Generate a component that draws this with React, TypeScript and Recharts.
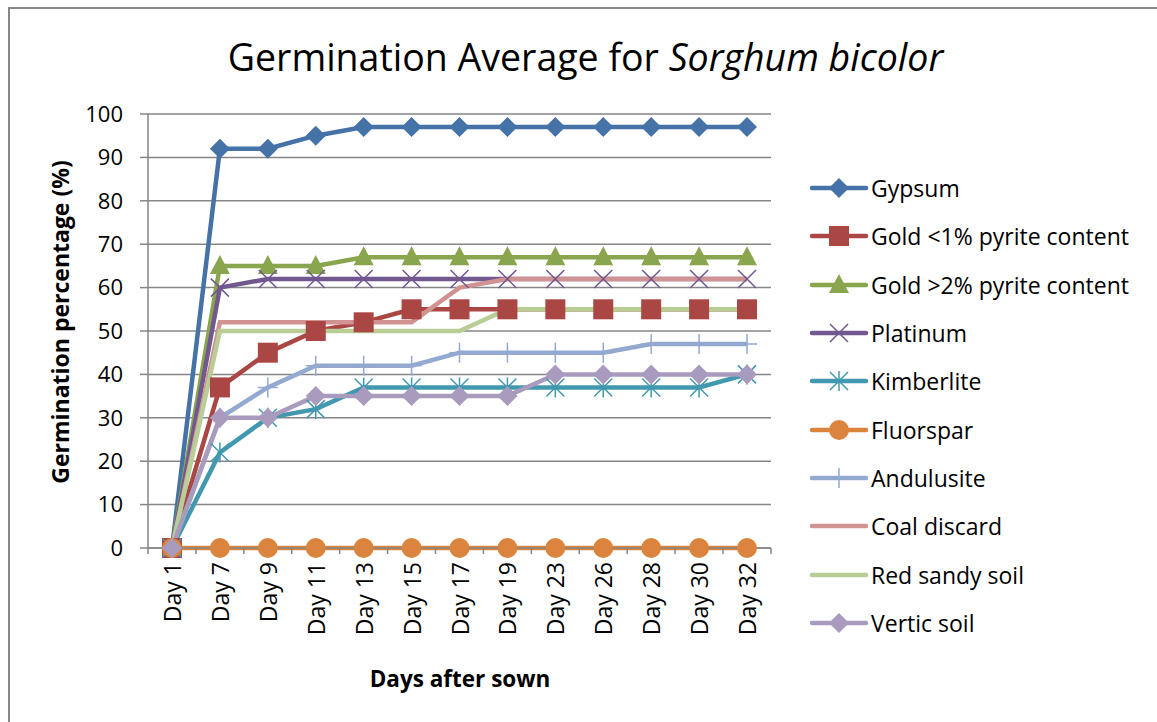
import { LineChart, Line, XAxis, YAxis, CartesianGrid } from 'recharts'

const days = ['Day 1', 'Day 7', 'Day 9', 'Day 11', 'Day 13', 'Day 15', 'Day 17', 'Day 19', 'Day 23', 'Day 26', 'Day 28', 'Day 30', 'Day 32']
const gypsum = [0, 92, 92, 95, 97, 97, 97, 97, 97, 97, 97, 97, 97]
const goldLow = [0, 37, 45, 50, 52, 55, 55, 55, 55, 55, 55, 55, 55]
const goldHigh = [0, 65, 65, 65, 67, 67, 67, 67, 67, 67, 67, 67, 67]
const platinum = [0, 60, 62, 62, 62, 62, 62, 62, 62, 62, 62, 62, 62]
const kimberlite = [0, 22, 30, 32, 37, 37, 37, 37, 37, 37, 37, 37, 40]
const fluorspar = [0, 0, 0, 0, 0, 0, 0, 0, 0, 0, 0, 0, 0]
const andulusite = [0, 30, 37, 42, 42, 42, 45, 45, 45, 45, 47, 47, 47]
const coalDiscard = [0, 52, 52, 52, 52, 52, 60, 62, 62, 62, 62, 62, 62]
const redSandy = [0, 50, 50, 50, 50, 50, 50, 55, 55, 55, 55, 55, 55]
const vertic = [0, 30, 30, 35, 35, 35, 35, 35, 40, 40, 40, 40, 40]
const yTicks = [0, 10, 20, 30, 40, 50, 60, 70, 80, 90, 100]

type Marker = 'diamond' | 'square' | 'triangle' | 'x' | 'star' | 'circle' | 'plus' | 'none'

const series: { key: string; name: string; color: string; marker: Marker; values: number[] }[] = [
  { key: 'gypsum', name: 'Gypsum', color: '#4572A7', marker: 'diamond', values: gypsum },
  { key: 'goldLow', name: 'Gold <1% pyrite content', color: '#AA4643', marker: 'square', values: goldLow },
  { key: 'goldHigh', name: 'Gold >2% pyrite content', color: '#89A54E', marker: 'triangle', values: goldHigh },
  { key: 'platinum', name: 'Platinum', color: '#71588F', marker: 'x', values: platinum },
  { key: 'kimberlite', name: 'Kimberlite', color: '#4198AF', marker: 'star', values: kimberlite },
  { key: 'fluorspar', name: 'Fluorspar', color: '#DB843D', marker: 'circle', values: fluorspar },
  { key: 'andulusite', name: 'Andulusite', color: '#93A9CF', marker: 'plus', values: andulusite },
  { key: 'coal', name: 'Coal discard', color: '#D19392', marker: 'none', values: coalDiscard },
  { key: 'redSandy', name: 'Red sandy soil', color: '#B9CD96', marker: 'none', values: redSandy },
  { key: 'vertic', name: 'Vertic soil', color: '#A99BBD', marker: 'diamond', values: vertic },
]

const data = days.map((day, i) => {
  const row: Record<string, string | number> = { day }
  series.forEach((s) => { row[s.key] = s.values[i] })
  return row
})

const FONT = 'Open Sans, sans-serif'

function MarkerShape({ cx, cy, marker, color }: { cx: number; cy: number; marker: Marker; color: string }) {
  switch (marker) {
    case 'diamond':
      return <path d={`M${cx},${cy - 10}L${cx + 10},${cy}L${cx},${cy + 10}L${cx - 10},${cy}Z`} fill={color} />
    case 'square':
      return <rect x={cx - 10} y={cy - 10} width={20} height={20} fill={color} />
    case 'triangle':
      return <path d={`M${cx},${cy - 11}L${cx + 10},${cy + 8}L${cx - 10},${cy + 8}Z`} fill={color} />
    case 'circle':
      return <circle cx={cx} cy={cy} r={10} fill={color} />
    case 'x':
      return <path d={`M${cx - 9},${cy - 9}L${cx + 9},${cy + 9}M${cx + 9},${cy - 9}L${cx - 9},${cy + 9}`} stroke={color} strokeWidth={1.5} fill="none" />
    case 'star':
      return <path d={`M${cx - 9},${cy - 9}L${cx + 9},${cy + 9}M${cx + 9},${cy - 9}L${cx - 9},${cy + 9}M${cx},${cy - 10}L${cx},${cy + 10}`} stroke={color} strokeWidth={1.5} fill="none" />
    case 'plus':
      return <path d={`M${cx},${cy - 10}L${cx},${cy + 10}M${cx - 10},${cy}L${cx + 10},${cy}`} stroke={color} strokeWidth={1.5} fill="none" />
    default:
      return null
  }
}

const makeDot = (marker: Marker, color: string) => (props: any) => {
  const { cx, cy, index } = props
  if (cx == null || cy == null) return <g key={index} />
  return <g key={index}><MarkerShape cx={cx} cy={cy} marker={marker} color={color} /></g>
}

const HALF_BAND = 24

function DayTick(props: any) {
  const { x, y, payload, index } = props
  return (
    <g>
      <line x1={x - HALF_BAND} x2={x - HALF_BAND} y1={y - 8} y2={y - 2} stroke="#868686" strokeWidth={1.5} />
      {index === days.length - 1 && (
        <line x1={x + HALF_BAND} x2={x + HALF_BAND} y1={y - 8} y2={y - 2} stroke="#868686" strokeWidth={1.5} />
      )}
      <text
        x={x}
        y={y + 6}
        transform={`rotate(-90, ${x}, ${y + 6})`}
        textAnchor="end"
        dominantBaseline="central"
        fontSize={23}
        fontFamily={FONT}
        fill="#000"
      >
        {payload.value}
      </text>
    </g>
  )
}

export default function App() {
  return (
    <div style={{ position: 'absolute', left: 0, top: 0, width: 1157, height: 722, overflow: 'hidden', background: '#fff' }}>
      <div style={{ position: 'absolute', left: 8, top: 7, width: 1200, height: 760, border: '2px solid #888' }} />
      <div style={{ position: 'absolute', left: 0, top: 31, width: 1171, textAlign: 'center', fontFamily: FONT, fontSize: 37.5, color: '#000' }}>
        Germination Average for <i>Sorghum bicolor</i>
      </div>
      <div style={{ position: 'absolute', left: 0, top: 0 }}>
        <LineChart width={1157} height={722} data={data} margin={{ top: 114, right: 386, bottom: 104, left: 0 }}>
          <CartesianGrid vertical={false} stroke="#868686" strokeWidth={1.5} />
          <XAxis
            dataKey="day"
            padding={{ left: HALF_BAND, right: HALF_BAND }}
            height={70}
            tick={<DayTick />}
            tickLine={false}
            interval={0}
            stroke="#868686"
            strokeWidth={1.5}
          />
          <YAxis
            domain={[0, 100]}
            ticks={yTicks}
            width={148}
            tickSize={8}
            tickMargin={17}
            stroke="#868686"
            strokeWidth={1.5}
            tick={{ fontSize: 22, fill: '#000', fontFamily: FONT }}
          />
          {series.map((s) => (
            <Line
              key={s.key}
              dataKey={s.key}
              name={s.name}
              stroke={s.color}
              strokeWidth={4.5}
              dot={makeDot(s.marker, s.color)}
              activeDot={false}
              isAnimationActive={false}
            />
          ))}
        </LineChart>
      </div>
      <div style={{ position: 'absolute', left: 60, top: 322, transform: 'translate(-50%, -50%) rotate(-90deg)', whiteSpace: 'nowrap', fontFamily: FONT, fontSize: 23, fontWeight: 'bold' }}>
        Germination percentage (%)
      </div>
      <div style={{ position: 'absolute', left: 460, top: 678, transform: 'translate(-50%, -50%)', whiteSpace: 'nowrap', fontFamily: FONT, fontSize: 22.5, fontWeight: 'bold' }}>
        Days after sown
      </div>
      <div style={{ position: 'absolute', left: 809, top: 164 }}>
        {series.map((s) => (
          <div key={s.key} style={{ display: 'flex', alignItems: 'center', height: 48.3 }}>
            <svg width={60} height={24}>
              <line x1={3} x2={57} y1={12} y2={12} stroke={s.color} strokeWidth={4.5} strokeLinecap="round" />
              <MarkerShape cx={30} cy={12} marker={s.marker} color={s.color} />
            </svg>
            <span style={{ fontFamily: FONT, fontSize: 23, color: '#000', marginLeft: 2 }}>{s.name}</span>
          </div>
        ))}
      </div>
    </div>
  )
}
